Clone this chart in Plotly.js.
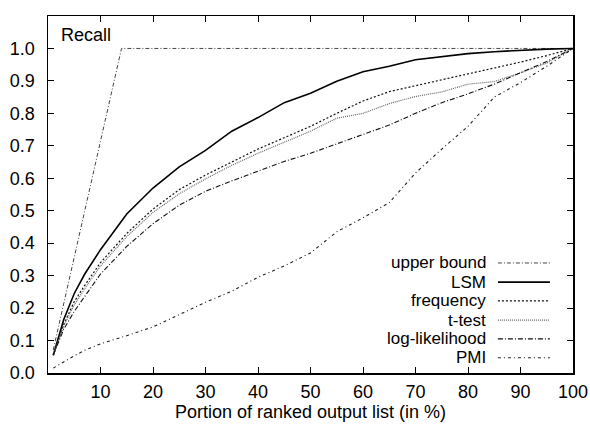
<!DOCTYPE html>
<html>
<head>
<meta charset="utf-8">
<script src="https://cdn.plot.ly/plotly-3.0.1.min.js"></script>
<style>html,body{margin:0;padding:0;background:#fff;}#chart{width:590px;height:430px;}</style>
</head>
<body>
<div id="chart"></div>
<script>
// Data
const xPortion = [1, 3, 5, 7, 10, 15, 20, 25, 30, 35, 40, 45, 50, 55, 60, 65, 70, 75, 80, 85, 90, 95, 100];
const upperX = [1, 5, 10, 14, 20, 40, 60, 80, 100];
const upperY = [0.071, 0.357, 0.714, 1.0, 1.0, 1.0, 1.0, 1.0, 1.0];
const lsm = [0.055, 0.165, 0.245, 0.305, 0.38, 0.49, 0.57, 0.635, 0.686, 0.745, 0.787, 0.833, 0.862, 0.899, 0.928, 0.945, 0.965, 0.975, 0.984, 0.990, 0.995, 0.998, 1.0];
const frequency = [0.055, 0.15, 0.22, 0.27, 0.34, 0.43, 0.505, 0.565, 0.61, 0.65, 0.69, 0.725, 0.76, 0.80, 0.838, 0.867, 0.885, 0.902, 0.92, 0.94, 0.958, 0.978, 1.0];
const tTest = [0.055, 0.145, 0.21, 0.26, 0.33, 0.42, 0.495, 0.552, 0.598, 0.64, 0.677, 0.71, 0.745, 0.785, 0.80, 0.83, 0.852, 0.866, 0.89, 0.898, 0.925, 0.955, 1.0];
const logLikelihood = [0.055, 0.135, 0.19, 0.235, 0.305, 0.39, 0.46, 0.517, 0.56, 0.592, 0.622, 0.652, 0.677, 0.705, 0.735, 0.764, 0.80, 0.833, 0.86, 0.89, 0.925, 0.96, 1.0];
const pmi = [0.015, 0.035, 0.053, 0.07, 0.09, 0.115, 0.142, 0.18, 0.218, 0.252, 0.295, 0.33, 0.37, 0.435, 0.478, 0.525, 0.616, 0.69, 0.76, 0.85, 0.895, 0.945, 1.0];
const seriesNames = ["upper bound", "LSM", "frequency", "t-test", "log-likelihood", "PMI"];
const xTicks = [10, 20, 30, 40, 50, 60, 70, 80, 90, 100];
const yTicks = [0, 0.1, 0.2, 0.3, 0.4, 0.5, 0.6, 0.7, 0.8, 0.9, 1.0];

const styles = [
  {color: "#444", width: 1, dash: "4px,2px,1px,2px"},
  {color: "#000", width: 1.6, dash: "solid"},
  {color: "#111", width: 1.2, dash: "2px,2px"},
  {color: "#666", width: 1.2, dash: "1px,1px"},
  {color: "#111", width: 1.1, dash: "5px,2px,1px,2px"},
  {color: "#222", width: 1.1, dash: "3px,3px,1px,3px"}
];
const ys = [upperY, lsm, frequency, tTest, logLikelihood, pmi];
const traces = ys.map((y, i) => ({
  x: i === 0 ? upperX : xPortion,
  y: y,
  name: seriesNames[i],
  type: "scatter",
  mode: "lines",
  line: styles[i],
  showlegend: false,
  hoverinfo: "skip"
}));

const font = {family: "Liberation Sans, Arial, sans-serif", size: 18, color: "#000"};
const legendFont = {family: "Liberation Sans, Arial, sans-serif", size: 17, color: "#000"};

// manual legend (text left of the line sample)
const legendRowY = [0.339, 0.280, 0.222, 0.163, 0.105, 0.047];
const annotations = seriesNames.map((n, i) => ({
  x: 83.6, y: legendRowY[i], xref: "x", yref: "y",
  text: n, showarrow: false, xanchor: "right", yanchor: "middle", font: legendFont,
  borderpad: 0
}));
annotations.push({x: 2.1, y: 1.042, xref: "x", yref: "y", text: "Recall", showarrow: false,
  xanchor: "left", yanchor: "middle", font: font});
const shapes = seriesNames.map((n, i) => ({
  type: "line", xref: "x", yref: "y",
  x0: 85.7, x1: 95.6, y0: legendRowY[i], y1: legendRowY[i],
  line: styles[i]
}));

const layout = {
  width: 590, height: 430,
  margin: {l: 48, r: 17, t: 16, b: 57, pad: 0},
  paper_bgcolor: "#fff", plot_bgcolor: "#fff",
  font: font,
  xaxis: {
    range: [0, 100], tickvals: xTicks, ticktext: xTicks.map(String),
    ticks: "inside", ticklen: 6, tickcolor: "#000", tickwidth: 1,
    showline: true, linecolor: "#000", linewidth: 1.5, mirror: "ticks",
    showgrid: false, zeroline: false, ticklabelstandoff: 2,
    title: {text: "Portion of ranked output list (in %)", font: font, standoff: 2},
    tickfont: font
  },
  yaxis: {
    range: [0, 1.1], tickvals: yTicks, ticktext: yTicks.map(v => v.toFixed(1)),
    ticks: "inside", ticklen: 6, tickcolor: "#000", tickwidth: 1,
    showline: true, linecolor: "#000", linewidth: 1.5, mirror: "ticks",
    showgrid: false, zeroline: false, ticklabelstandoff: 8,
    tickfont: font
  },
  annotations: annotations,
  shapes: shapes,
  showlegend: false
};

Plotly.newPlot("chart", traces, layout, {displayModeBar: false, staticPlot: true});
</script>
</body>
</html>
